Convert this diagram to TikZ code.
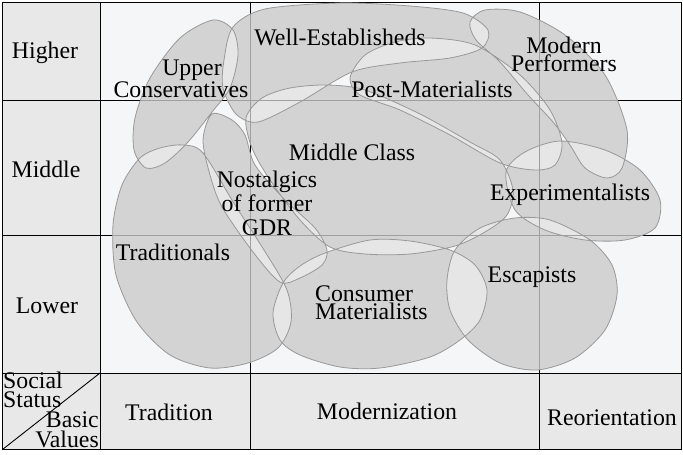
\documentclass[tikz,border=0pt]{standalone}
\usepackage{fontspec}
\setmainfont{Liberation Serif}
\definecolor{cellbg}{HTML}{F4F6F7}
\definecolor{headbg}{HTML}{E8E8E8}
\definecolor{blobfill}{HTML}{D3D3D3}
\definecolor{ovlfill}{HTML}{E6E6E6}
\definecolor{blobline}{HTML}{999999}
\definecolor{gridgray}{HTML}{A0A0A0}
\tikzset{
  frameline/.style={line width=0.9pt,black},
  gridin/.style={line width=0.8pt,gridgray},
  blob/.style={draw=blobline,line width=0.8pt},
  lbl/.style={inner sep=0pt,align=center,anchor=base,font=\fontsize{23.8}{22}\selectfont}
}
% milieu outlines, pixel coordinates (y down)
\newcommand{\pUC}{plot[smooth cycle] coordinates {(213,20) (233,30) (238,55) (230,88) (212,112) (188,142) (165,163) (146,168) (134,150) (135,118) (150,78) (180,38)}}
\newcommand{\pWE}{plot[smooth cycle] coordinates {(224,60) (233,27) (265,9) (340,3) (410,6) (463,13) (488,30) (482,48) (450,58) (400,63) (352,72) (300,102) (258,122) (236,114) (223,88)}}
\newcommand{\pMP}{plot[smooth cycle] coordinates {(470,22) (485,10) (520,12) (565,35) (605,75) (627,130) (622,168) (607,178) (585,168) (570,145) (553,122) (528,95) (500,62) (476,40)}}
\newcommand{\pPM}{plot[smooth cycle] coordinates {(350,78) (365,55) (395,42) (430,38) (475,45) (520,75) (550,110) (562,143) (555,165) (535,170) (500,163) (450,135) (400,110) (360,95)}}
\newcommand{\pMC}{plot[smooth cycle] coordinates {(246,118) (262,98) (290,88) (327,85) (365,90) (420,114) (470,142) (500,160) (513,190) (507,215) (485,232) (455,246) (410,254) (365,254) (330,247) (300,220) (270,180) (252,148)}}
\newcommand{\pNO}{plot[smooth cycle] coordinates {(212,114) (232,120) (245,135) (255,165) (285,200) (315,228) (327,250) (322,265) (300,278) (280,282) (253,252) (222,207) (210,175) (203,140)}}
\newcommand{\pTR}{plot[smooth cycle] coordinates {(183,145) (203,153) (235,205) (264,250) (287,290) (291,322) (278,348) (248,363) (210,368) (170,355) (137,322) (116,275) (113,225) (122,185) (140,158) (160,148)}}
\newcommand{\pCM}{plot[smooth cycle] coordinates {(283,283) (300,266) (325,253) (370,240) (410,241) (450,250) (475,265) (487,290) (480,320) (460,340) (430,357) (380,368) (340,367) (300,355) (280,340) (273,313)}}
\newcommand{\pES}{plot[smooth cycle] coordinates {(447,280) (455,250) (480,228) (515,218) (550,220) (590,240) (612,265) (617,295) (605,330) (575,358) (537,370) (500,363) (468,340) (450,310)}}
\newcommand{\pEX}{plot[smooth cycle] coordinates {(506,172) (525,152) (560,141) (605,150) (640,170) (660,200) (655,228) (625,240) (585,240) (545,230) (515,210)}}
\begin{document}
\begin{tikzpicture}[x=1pt,y=-1pt]
\useasboundingbox (0,0) rectangle (683,455);
% cells
\fill[cellbg] (100,2.5) rectangle (681,373);
\fill[headbg] (2.5,2.5) rectangle (100,449.5);
\fill[headbg] (100,373) rectangle (681,449.5);
\draw[frameline] (2.5,2.5) rectangle (681,449.5);
\draw[frameline] (100,2.5) -- (100,449.5) (250,2.5) -- (250,449.5) (539,2.5) -- (539,449.5);
\draw[frameline] (2.5,100) -- (681,100) (2.5,235) -- (681,235) (2.5,373) -- (681,373);
\draw[frameline] (2.5,449.5) -- (100,373);
% milieus
\foreach \p in {\pUC,\pWE,\pMP,\pPM,\pMC,\pNO,\pTR,\pCM,\pES,\pEX}
  \fill[ovlfill] \p;
\fill[blobfill,even odd rule] \pUC \pWE \pMP \pPM \pMC \pNO \pTR \pCM \pES \pEX;
\foreach \p in {\pUC,\pWE,\pMP,\pPM,\pMC,\pNO,\pTR,\pCM,\pES,\pEX}{
  \begin{scope}
    \clip \p;
    \draw[gridin] (250,2.5) -- (250,373) (539,2.5) -- (539,373) (100,100) -- (681,100) (100,235) -- (681,235);
  \end{scope}
}
\draw[blob] \pUC \pWE \pMP \pPM \pMC \pNO \pTR \pCM \pES \pEX;
% axis labels
\node[lbl] (higher) at (45,58) {Higher};
\node[lbl] (middle) at (46,177) {Middle};
\node[lbl] (lower) at (47,313) {Lower};
\node[lbl] (tradition) at (169,420) {Tradition};
\node[lbl] (modern) at (387,419) {Modernization};
\node[lbl] (reorient) at (612,425) {Reorientation};
\node[lbl,align=left,anchor=base west,font=\fontsize{23.8}{19}\selectfont] (socstat) at (3,407) {Social\\Status};
\node[lbl,align=right,anchor=base east,font=\fontsize{23.8}{20}\selectfont] (basval) at (99,447) {Basic\\Values};
% milieu labels
\node[lbl] (upcons) at (181,97) {\hspace*{22pt}Upper\\Conservatives};
\node[lbl] (wellest) at (340,45) {Well-Establisheds};
\node[lbl,font=\fontsize{23.8}{18}\selectfont] (modperf) at (564,71) {Modern\\Performers};
\node[lbl] (postmat) at (432,97) {Post-Materialists};
\node[lbl] (midcl) at (352,160) {Middle Class};
\node[lbl,font=\fontsize{23.8}{24}\selectfont] (nostal) at (267,235) {Nostalgics\\of former\\GDR};
\node[lbl] (expmt) at (570,200) {Experimentalists};
\node[lbl] (tradls) at (173,260) {Traditionals};
\node[lbl,align=left,anchor=base west,font=\fontsize{23.8}{18}\selectfont] (consmat) at (315,319) {Consumer\\Materialists};
\node[lbl] (escap) at (532,282) {Escapists};
\end{tikzpicture}
\end{document}
